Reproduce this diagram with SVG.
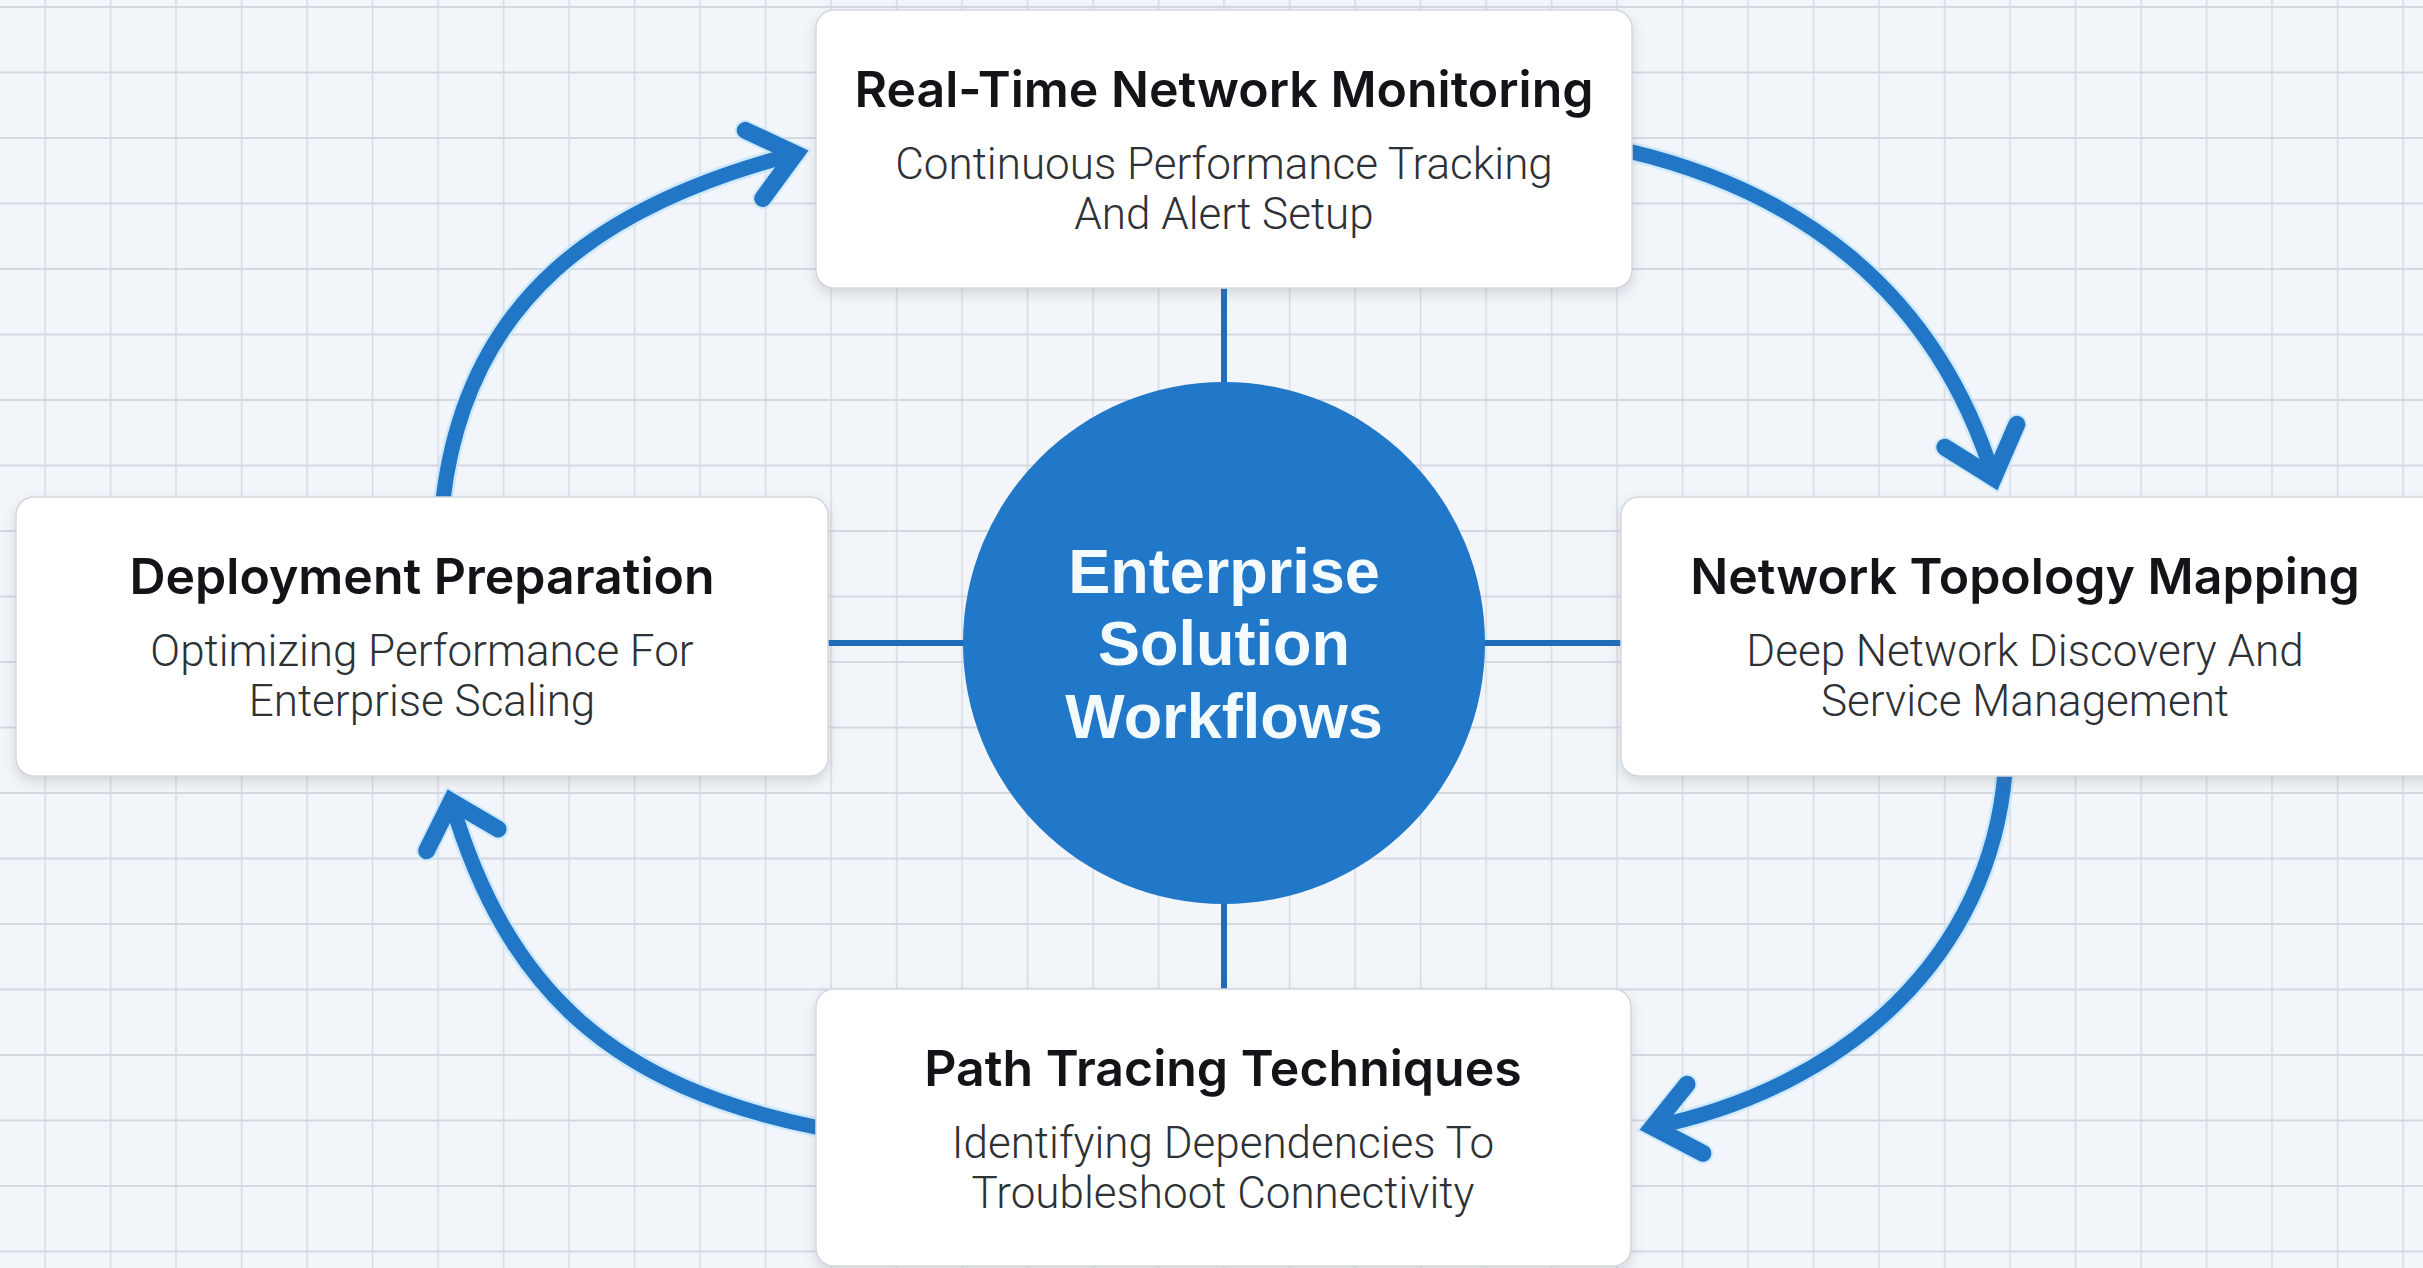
<svg xmlns="http://www.w3.org/2000/svg" width="2423" height="1268" viewBox="0 0 2423 1268">
  <style>
    .box { fill: #ffffff; stroke: #d3d7dd; stroke-width: 1.5; filter: url(#shadow); }
    .title { font-family: Inter, "Noto Sans", sans-serif; font-weight: 600; font-size: 50px; fill: #121417; text-anchor: middle; }
    .sub { font-family: Roboto, "Noto Sans", sans-serif; font-weight: 300; font-size: 44px; fill: #2e3135; text-anchor: middle; }
    .hub { fill: #2177c8; }
    .hubtext { font-family: "Liberation Sans", Arial, sans-serif; font-weight: 700; font-size: 63px; fill: #f4fbff; text-anchor: middle; }
    .spoke { stroke: #1f6db9; stroke-width: 6; fill: none; }
    .halo { stroke: #bfe4ff; stroke-width: 20; fill: none; stroke-linecap: round; opacity: 0.7; }
    .flow { stroke: #2176c6; stroke-width: 15; fill: none; stroke-linecap: round; }
    .head { stroke: #2176c6; stroke-width: 17; fill: none; stroke-linecap: round; stroke-linejoin: miter; stroke-miterlimit: 6; }
    .headhalo { stroke: #bfe4ff; stroke-width: 21; fill: none; stroke-linecap: round; stroke-linejoin: miter; stroke-miterlimit: 6; opacity: 0.7; }
  </style>
  <defs>
    <pattern id="grid" x="44.3" y="6" width="65.5" height="65.5" patternUnits="userSpaceOnUse">
      <rect width="65.5" height="65.5" fill="#f2f5f9"/>
      <line x1="0.75" y1="0" x2="0.75" y2="65.5" stroke="#d6dbe2" stroke-width="1.5"/>
      <line x1="0" y1="1" x2="65.5" y2="1" stroke="#d4d9e0" stroke-width="2"/>
    </pattern>
    <filter id="shadow" x="-10%" y="-10%" width="120%" height="130%">
      <feDropShadow dx="0" dy="5" stdDeviation="6" flood-color="#5a6470" flood-opacity="0.22"/>
    </filter>
  </defs>

  <rect x="0" y="0" width="2423" height="1268" fill="url(#grid)"/>

  <g id="connectors">
    <!-- spokes from hub to the four steps -->
    <line class="spoke" x1="1224" y1="288" x2="1224" y2="390"/>
    <line class="spoke" x1="1224" y1="896" x2="1224" y2="990"/>
    <line class="spoke" x1="827" y1="643" x2="970" y2="643"/>
    <line class="spoke" x1="1478" y1="643" x2="1622" y2="643"/>

    <!-- cycle arrows -->
    <g id="arrow-deploy-to-monitor">
      <path class="halo" d="M 443 500 C 467 297, 602 204, 795.5 153.8"/>
      <path class="headhalo" d="M 745.2 130.4 L 795.5 153.8 L 762.7 198.5"/>
      <path class="flow" d="M 443 500 C 467 297, 602 204, 795.5 153.8"/>
      <path class="head" d="M 745.2 130.4 L 795.5 153.8 L 762.7 198.5"/>
    </g>
    <g id="arrow-monitor-to-topology">
      <path class="halo" d="M 1628 151 C 1794 190, 1934.3 286.7, 1993.6 477.7"/>
      <path class="headhalo" d="M 1944.8 447.2 L 1993.6 477.7 L 2016.8 424.3"/>
      <path class="flow" d="M 1628 151 C 1794 190, 1934.3 286.7, 1993.6 477.7"/>
      <path class="head" d="M 1944.8 447.2 L 1993.6 477.7 L 2016.8 424.3"/>
    </g>
    <g id="arrow-topology-to-path">
      <path class="halo" d="M 2005 772 C 1990 955, 1848.5 1086.6, 1652.7 1127"/>
      <path class="headhalo" d="M 1687 1084.2 L 1652.7 1127 L 1702.9 1153.3"/>
      <path class="flow" d="M 2005 772 C 1990 955, 1848.5 1086.6, 1652.7 1127"/>
      <path class="head" d="M 1687 1084.2 L 1652.7 1127 L 1702.9 1153.3"/>
    </g>
    <g id="arrow-path-to-deploy">
      <path class="halo" d="M 820 1128 C 615 1087, 507.8 993.2, 451.2 801.4"/>
      <path class="headhalo" d="M 426.6 850.8 L 451.2 801.4 L 498.1 829"/>
      <path class="flow" d="M 820 1128 C 615 1087, 507.8 993.2, 451.2 801.4"/>
      <path class="head" d="M 426.6 850.8 L 451.2 801.4 L 498.1 829"/>
    </g>
  </g>

  <g id="node-monitoring">
    <rect class="box" x="816" y="10" width="816" height="278" rx="18"/>
    <text class="title" x="1224" y="107">Real-Time Network Monitoring</text>
    <text class="sub" x="1224" y="179">Continuous Performance Tracking</text>
    <text class="sub" x="1224" y="229">And Alert Setup</text>
  </g>

  <g id="node-topology">
    <rect class="box" x="1621" y="497" width="820" height="279" rx="18"/>
    <text class="title" x="2025" y="594">Network Topology Mapping</text>
    <text class="sub" x="2025" y="666">Deep Network Discovery And</text>
    <text class="sub" x="2025" y="716">Service Management</text>
  </g>

  <g id="node-path-tracing">
    <rect class="box" x="816" y="989" width="815" height="277" rx="18"/>
    <text class="title" x="1223" y="1086">Path Tracing Techniques</text>
    <text class="sub" x="1223" y="1158">Identifying Dependencies To</text>
    <text class="sub" x="1223" y="1208">Troubleshoot Connectivity</text>
  </g>

  <g id="node-deployment">
    <rect class="box" x="16" y="497" width="812" height="279" rx="18"/>
    <text class="title" x="422" y="594">Deployment Preparation</text>
    <text class="sub" x="422" y="666">Optimizing Performance For</text>
    <text class="sub" x="422" y="716">Enterprise Scaling</text>
  </g>

  <g id="node-center">
    <circle class="hub" cx="1224" cy="643" r="261"/>
    <text class="hubtext" x="1224" y="593">Enterprise</text>
    <text class="hubtext" x="1224" y="665">Solution</text>
    <text class="hubtext" x="1224" y="738">Workflows</text>
  </g>
</svg>
